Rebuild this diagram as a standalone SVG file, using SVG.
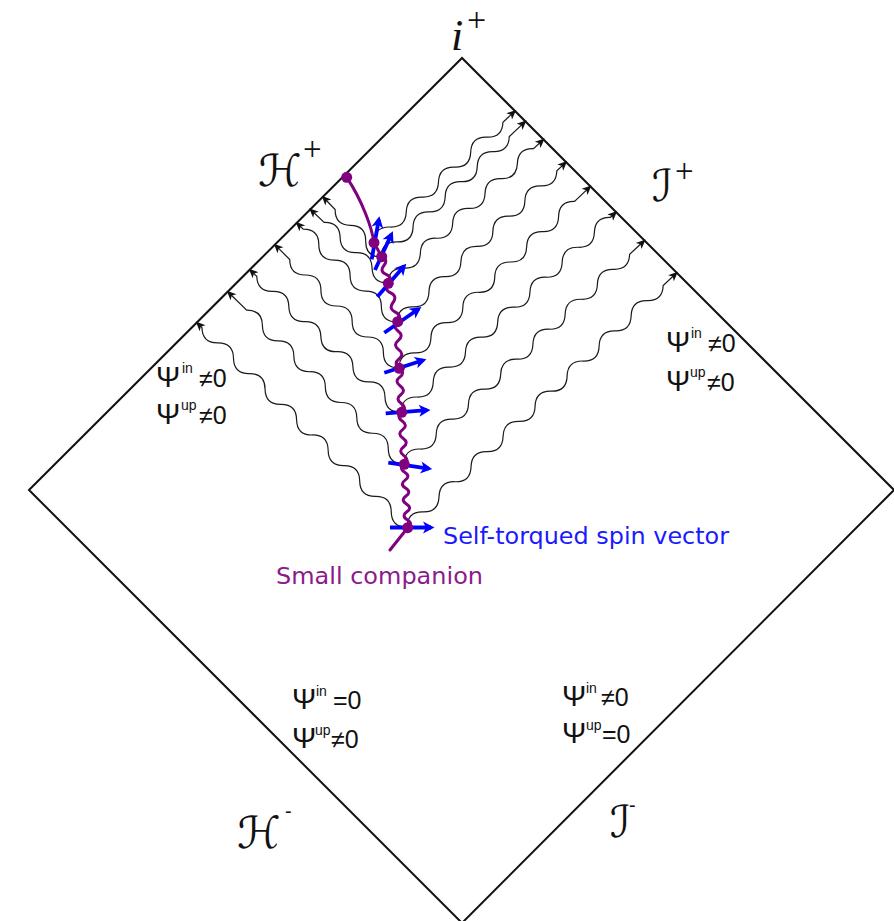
<svg xmlns="http://www.w3.org/2000/svg" width="894" height="921" viewBox="0 0 894 921">
<style>
.wave{fill:none;stroke:#1a1a1a;stroke-width:1.2;marker-end:url(#arrK)}
.spin{fill:none;stroke:#0000ff;stroke-width:3.8;marker-end:url(#arrB)}
.dot{fill:#800080}
.psi{font-family:"Liberation Sans",Arial,sans-serif;font-size:25px;fill:#111}
.big{font-size:29px}
.sup{font-size:14px}
.cal{font-family:"DejaVu Sans",sans-serif;fill:#111}
.plus{font-family:"Liberation Serif",serif;fill:#111}
</style>
<defs>
<marker id="arrK" viewBox="-10 -5 12 10" refX="0" refY="0" markerWidth="12" markerHeight="10" markerUnits="userSpaceOnUse" orient="auto">
<path d="M1.5,0 L-8,-4.2 L-5.5,0 L-8,4.2 Z" fill="#111"/>
</marker>
<marker id="arrB" viewBox="-12 -7 16 14" refX="0" refY="0" markerWidth="16" markerHeight="14" markerUnits="userSpaceOnUse" orient="auto">
<path d="M3.5,0 L-8,-6 L-5,0 L-8,6 Z" fill="#0000ff"/>
</marker>
</defs>
<rect width="894" height="921" fill="#fff"/>
<g id="diagram-boundary">
<polygon points="29,490 462,58 894,490 462,923" fill="none" stroke="#111" stroke-width="2"/>
</g>
<g id="connectors">
<path class="wave" transform="translate(374,242) rotate(-42.9)" d="M0,0q11,-11 22,0t22,0t22,0t22,0t22,0t22,0t22,0t22,0L192.5,0"/>
<path class="wave" transform="translate(381,257) rotate(-43.2)" d="M0,0q11,-11 22,0t22,0t22,0t22,0t22,0t22,0t22,0t22,0L198.1,0"/>
<path class="wave" transform="translate(388,283) rotate(-42.7)" d="M0,0q11,-11 22,0t22,0t22,0t22,0t22,0t22,0t22,0t22,0t22,0L211.6,0"/>
<path class="wave" transform="translate(397,322) rotate(-43.4)" d="M0,0q11,-11 22,0t22,0t22,0t22,0t22,0t22,0t22,0t22,0t22,0t22,0L232.7,0"/>
<path class="wave" transform="translate(399,368) rotate(-43.5)" d="M0,0q11,-11 22,0t22,0t22,0t22,0t22,0t22,0t22,0t22,0t22,0t22,0t22,0L263.8,0"/>
<path class="wave" transform="translate(401,412) rotate(-42.9)" d="M0,0q11,-11 22,0t22,0t22,0t22,0t22,0t22,0t22,0t22,0t22,0t22,0t22,0t22,0t22,0L293.6,0"/>
<path class="wave" transform="translate(404,464) rotate(-42.9)" d="M0,0q11,-11 22,0t22,0t22,0t22,0t22,0t22,0t22,0t22,0t22,0t22,0t22,0t22,0t22,0t22,0L328.3,0"/>
<path class="wave" transform="translate(407,527) rotate(-43.3)" d="M0,0q11,-11 22,0t22,0t22,0t22,0t22,0t22,0t22,0t22,0t22,0t22,0t22,0t22,0t22,0t22,0t22,0t22,0L370.7,0"/>
<path class="wave" transform="translate(381,257) rotate(-134)" d="M0,0q11,-11 22,0t22,0t22,0L83.8,0"/>
<path class="wave" transform="translate(388,283) rotate(-136.5)" d="M0,0q11,-11 22,0t22,0t22,0t22,0L107.2,0"/>
<path class="wave" transform="translate(397,322) rotate(-135.3)" d="M0,0q11,-11 22,0t22,0t22,0t22,0t22,0t22,0L141.1,0"/>
<path class="wave" transform="translate(399,368) rotate(-135.2)" d="M0,0q11,-11 22,0t22,0t22,0t22,0t22,0t22,0t22,0L175,0"/>
<path class="wave" transform="translate(401,412) rotate(-136.75)" d="M0,0q11,-11 22,0t22,0t22,0t22,0t22,0t22,0t22,0t22,0t22,0L207.6,0"/>
<path class="wave" transform="translate(404,464) rotate(-135.65)" d="M0,0q11,-11 22,0t22,0t22,0t22,0t22,0t22,0t22,0t22,0t22,0t22,0L246.4,0"/>
<path class="wave" transform="translate(407,527) rotate(-135.8)" d="M0,0q11,-11 22,0t22,0t22,0t22,0t22,0t22,0t22,0t22,0t22,0t22,0t22,0t22,0t22,0L293.1,0"/>
</g>
<g id="worldline">
<path fill="none" stroke="#800080" stroke-width="3" stroke-linecap="round" stroke-linejoin="round" d="M390,550 L407.7,527.7 q5.79,-3.96 -0.43,-7.93 t-0.43,-7.93 t-0.43,-7.93 t-0.43,-7.93 t-0.43,-7.93 t-0.43,-7.93 t-0.43,-7.93 t-0.43,-7.93 L404.3,464.3 q5.78,-4.33 -0.43,-8.67 t-0.43,-8.67 t-0.43,-8.67 t-0.43,-8.67 t-0.43,-8.67 t-0.43,-8.67 L401.7,412.3 q5.76,-4.4 -0.48,-8.8 t-0.48,-8.8 t-0.48,-8.8 t-0.48,-8.8 t-0.48,-8.8 L399.3,368.3 q-6.16,-4.66 -0.32,-9.32 t-0.32,-9.32 t-0.32,-9.32 t-0.32,-9.32 t-0.32,-9.32 L397.7,321.7 q4.65,-6.23 -2.35,-9.6 t-2.35,-9.6 t-2.35,-9.6 t-2.35,-9.6 L388.3,283.3 q4.72,-5.88 -2.2,-8.87 t-2.2,-8.87 t-2.2,-8.87 L374,242.7 C372,228 362,200 346.7,177.3"/>
</g>
<g id="spin-vectors">
<line class="spin" x1="390" y1="527.5" x2="431" y2="527.5"/>
<line class="spin" x1="388.3" y1="462.7" x2="428.7" y2="468.6"/>
<line class="spin" x1="385.7" y1="413.3" x2="427" y2="410.2"/>
<line class="spin" x1="384.3" y1="372.7" x2="423.1" y2="360.2"/>
<line class="spin" x1="384.3" y1="332.7" x2="418.5" y2="309"/>
<line class="spin" x1="377.3" y1="296.7" x2="404" y2="266.3"/>
<line class="spin" x1="375" y1="270" x2="391.4" y2="234.4"/>
<line class="spin" x1="371.7" y1="259.3" x2="378.8" y2="219.7"/>
</g>
<g id="worldline-points">
<circle class="dot" cx="346.7" cy="177.3" r="5.5"/>
<circle class="dot" cx="374" cy="242.7" r="5.5"/>
<circle class="dot" cx="381.7" cy="256.7" r="5.5"/>
<circle class="dot" cx="388.3" cy="283.3" r="5.5"/>
<circle class="dot" cx="397.7" cy="321.7" r="5.5"/>
<circle class="dot" cx="399.3" cy="368.3" r="5.5"/>
<circle class="dot" cx="401.7" cy="412.3" r="5.5"/>
<circle class="dot" cx="404.3" cy="464.3" r="5.5"/>
<circle class="dot" cx="407.7" cy="527.7" r="5.5"/>
</g>
<g id="label-iplus">
<text x="451" y="50" font-family="'Liberation Serif',serif" font-style="italic" font-size="44" fill="#111">i</text>
<text class="plus" x="467" y="31" font-size="34">+</text>
</g>
<g id="label-Hplus">
<text class="cal" x="258" y="186" font-size="44">ℋ</text>
<text class="plus" x="303" y="160" font-size="33">+</text>
</g>
<g id="label-Jplus">
<text class="cal" x="652" y="201" font-size="44">ℐ</text>
<text class="plus" x="675" y="182" font-size="33">+</text>
</g>
<g id="label-Hminus">
<text class="cal" x="237" y="848" font-size="44">ℋ</text>
<text x="285" y="818" font-family="'Liberation Sans',sans-serif" font-size="20" fill="#111">-</text>
</g>
<g id="label-Jminus">
<text class="cal" x="610" y="837" font-size="44">ℐ</text>
<text x="629" y="812" font-family="'Liberation Sans',sans-serif" font-size="20" fill="#111">-</text>
</g>
<g id="region-left">
<text class="psi" x="156" y="387"><tspan class="big">Ψ</tspan><tspan class="sup" x="182" y="373">in</tspan><tspan x="199" y="387">≠0</tspan></text>
<text class="psi" x="156" y="424"><tspan class="big">Ψ</tspan><tspan class="sup" x="181" y="410">up</tspan><tspan x="199" y="424">≠0</tspan></text>
</g>
<g id="region-right">
<text class="psi" x="666" y="352"><tspan class="big">Ψ</tspan><tspan class="sup" x="691" y="338">in</tspan><tspan x="708" y="352">≠0</tspan></text>
<text class="psi" x="666" y="391"><tspan class="big">Ψ</tspan><tspan class="sup" x="690" y="377">up</tspan><tspan x="707" y="391">≠0</tspan></text>
</g>
<g id="region-bottom-left">
<text class="psi" x="292" y="709"><tspan class="big">Ψ</tspan><tspan class="sup" x="316" y="696">in</tspan><tspan x="333" y="709">=0</tspan></text>
<text class="psi" x="292" y="748"><tspan class="big">Ψ</tspan><tspan class="sup" x="315" y="735">up</tspan><tspan x="331" y="748">≠0</tspan></text>
</g>
<g id="region-bottom-right">
<text class="psi" x="562" y="706"><tspan class="big">Ψ</tspan><tspan class="sup" x="586" y="693">in</tspan><tspan x="601" y="706">≠0</tspan></text>
<text class="psi" x="562" y="743"><tspan class="big">Ψ</tspan><tspan class="sup" x="586" y="730">up</tspan><tspan x="602" y="743">=0</tspan></text>
</g>
<g id="label-spin">
<text x="443" y="544" font-family="'DejaVu Sans',sans-serif" font-size="23" fill="#1a1aff" textLength="286" lengthAdjust="spacingAndGlyphs">Self-torqued spin vector</text>
</g>
<g id="label-companion">
<text x="276" y="584" font-family="'DejaVu Sans',sans-serif" font-size="23" fill="#8b1a8b" textLength="207" lengthAdjust="spacingAndGlyphs">Small companion</text>
</g>
</svg>
